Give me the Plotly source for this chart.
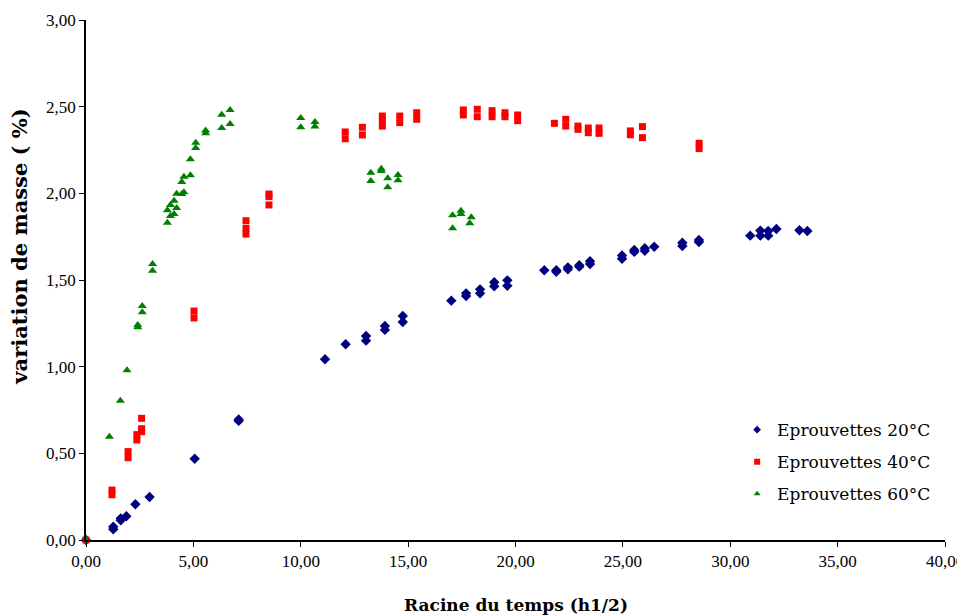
import plotly.graph_objects as go

# 20°C series
x20 = [0, 1.27, 1.27, 1.62, 1.62, 1.88, 2.30, 2.96, 5.06, 7.11, 7.11, 11.13, 12.09, 13.04, 13.04,
       13.92, 13.92, 14.75, 14.75, 17.01, 17.70, 17.70, 18.35, 18.35, 19.01, 19.01, 19.62, 19.62,
       21.34, 21.90, 21.90, 22.44, 22.44, 22.97, 22.97, 23.47, 23.47, 24.96, 24.96, 25.53, 25.53,
       26.02, 26.02, 26.46, 27.77, 27.77, 28.54, 28.54, 30.93, 31.40, 31.40, 31.77, 31.77, 32.15,
       33.22, 33.59]
y20 = [0, 0.062, 0.077, 0.114, 0.125, 0.137, 0.206, 0.248, 0.469, 0.687, 0.695, 1.043, 1.129, 1.177, 1.150,
       1.235, 1.212, 1.292, 1.258, 1.381, 1.423, 1.408, 1.446, 1.423, 1.487, 1.464, 1.498, 1.467,
       1.556, 1.556, 1.548, 1.573, 1.562, 1.585, 1.577, 1.608, 1.592, 1.642, 1.623, 1.673, 1.662,
       1.683, 1.669, 1.692, 1.715, 1.696, 1.731, 1.719, 1.756, 1.785, 1.756, 1.783, 1.756, 1.794,
       1.787, 1.783]

# 40°C series
x40 = [0, 1.21, 1.21, 1.96, 1.96, 2.37, 2.37, 2.59, 2.59, 2.59, 5.03, 5.03, 7.45, 7.45, 7.45,
       8.52, 8.52, 8.52, 12.07, 12.07, 12.87, 12.87, 13.80, 13.80, 13.80, 14.61, 14.61, 15.40, 15.40,
       17.57, 17.57, 18.22, 18.22, 18.91, 18.91, 19.51, 19.51, 20.10, 20.10, 21.81, 22.34, 22.34,
       22.91, 22.91, 23.39, 23.39, 23.89, 23.89, 25.35, 25.35, 25.91, 25.91, 28.55, 28.55]
y40 = [0, 0.288, 0.261, 0.510, 0.475, 0.608, 0.577, 0.702, 0.642, 0.625, 1.321, 1.281, 1.842, 1.798, 1.765,
       1.996, 1.981, 1.933, 2.354, 2.315, 2.381, 2.337, 2.446, 2.420, 2.388, 2.446, 2.408, 2.465, 2.427,
       2.481, 2.452, 2.485, 2.442, 2.477, 2.442, 2.465, 2.442, 2.452, 2.419, 2.404, 2.427, 2.388,
       2.388, 2.369, 2.377, 2.350, 2.377, 2.346, 2.360, 2.338, 2.385, 2.321, 2.289, 2.258]

# 60°C series
x60 = [0, 1.09, 1.60, 1.91, 2.41, 2.41, 2.62, 2.62, 3.10, 3.10, 3.79, 3.79, 3.93, 3.93, 4.10, 4.10,
       4.22, 4.22, 4.46, 4.46, 4.56, 4.56, 4.86, 4.86, 5.11, 5.11, 5.57, 5.57, 6.32, 6.32, 6.71, 6.71,
       10.00, 10.00, 10.66, 10.66, 13.26, 13.26, 13.75, 13.75, 14.05, 14.05, 14.53, 14.53,
       17.07, 17.07, 17.46, 17.46, 17.94, 17.87]
y60 = [0, 0.596, 0.804, 0.979, 1.240, 1.227, 1.350, 1.314, 1.592, 1.554, 1.902, 1.831, 1.933, 1.869, 1.957, 1.881,
       1.998, 1.915, 2.065, 1.996, 2.096, 2.006, 2.196, 2.104, 2.292, 2.262, 2.362, 2.346, 2.454, 2.377, 2.481, 2.400,
       2.435, 2.381, 2.412, 2.385, 2.119, 2.071, 2.142, 2.129, 2.087, 2.035, 2.106, 2.075,
       1.873, 1.798, 1.900, 1.881, 1.862, 1.827]

names = ["Eprouvettes 20°C", "Eprouvettes 40°C", "Eprouvettes 60°C"]
colors = ["#000080", "#FF0000", "#008000"]
symbols = ["diamond", "square", "triangle-up"]
sizes = [8, 7, 8]
legend_sizes = [6, 6, 6]
x_title = "Racine du temps (h1/2)"
y_title = "variation de masse ( %)"

fig = go.Figure()
for xs, ys, nm, c, s, sz, lsz in zip([x20, x40, x60], [y20, y40, y60], names, colors, symbols, sizes, legend_sizes):
    fig.add_trace(go.Scatter(x=xs, y=ys, mode="markers", name=nm, showlegend=False, legendgroup=nm,
                             marker=dict(symbol=s, size=sz, color=c), cliponaxis=False))
    # legend entry with the small legend marker
    fig.add_trace(go.Scatter(x=[None], y=[None], mode="markers", name=nm, legendgroup=nm,
                             marker=dict(symbol=s, size=lsz, color=c)))

font = "DejaVu Serif, serif"
tick_font = "Liberation Serif, Times New Roman, serif"
fig.update_layout(
    width=957, height=608,
    margin=dict(l=78, r=20, t=12, b=76),
    paper_bgcolor="white", plot_bgcolor="white",
    separators=", ",
    font=dict(family=font, size=14, color="black"),
    showlegend=True,
    legend=dict(x=0.758, y=0.246, xanchor="left", yanchor="top",
                font=dict(family=font, size=17, color="black"),
                bgcolor="rgba(0,0,0,0)", traceorder="grouped", tracegroupgap=7),
    annotations=[
        dict(text="<b>" + x_title + "</b>", xref="paper", yref="paper", x=0.5, y=-0.125,
             xanchor="center", yanchor="middle", showarrow=False,
             font=dict(family=font, size=17, color="black")),
        dict(text="<b>" + y_title + "</b>", xref="paper", yref="paper", x=-0.0775, y=0.565,
             xanchor="center", yanchor="middle", textangle=-90, showarrow=False,
             font=dict(family=font, size=21, color="black")),
    ],
)
fig.update_xaxes(range=[0, 40], dtick=5, tickformat=".2f", showgrid=False, zeroline=False,
                 showline=True, linecolor="black", linewidth=1.5, ticks="outside", ticklen=5,
                 tickcolor="black", tickfont=dict(family=tick_font, size=17), automargin=False,
                 ticklabeloverflow="allow")
fig.update_yaxes(range=[0, 3], dtick=0.5, tickformat=".2f", showgrid=False, zeroline=False,
                 showline=True, linecolor="black", linewidth=1.5, ticks="outside", ticklen=5,
                 tickcolor="black", tickfont=dict(family=tick_font, size=17), automargin=False,
                 ticklabeloverflow="allow")
fig.write_html("out.html")
